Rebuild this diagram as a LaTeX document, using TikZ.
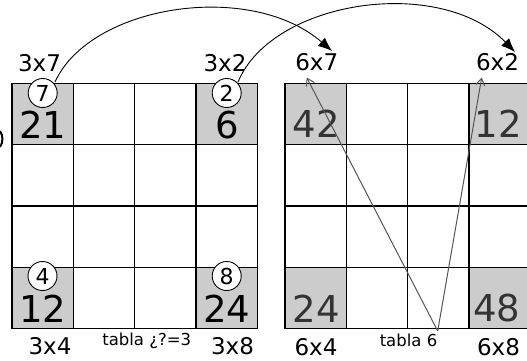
\documentclass[tikz,border=0pt]{standalone}
\usepackage{fontspec}
\setmainfont{DejaVu Sans}
\usetikzlibrary{arrows.meta}
\definecolor{cellgray}{HTML}{CCCCCC}
\definecolor{numgray}{HTML}{333333}
\definecolor{linegray}{HTML}{555555}
\begin{document}
\begin{tikzpicture}[x=1pt,y=-1pt,
  gridline/.style={line width=1.3pt,black},
  bignum/.style={font=\fontsize{37}{40}\selectfont,inner sep=0pt},
  rnum/.style={bignum,text=numgray},
  lab/.style={font=\fontsize{23}{26}\selectfont,inner sep=0pt},
  small/.style={font=\fontsize{16.5}{19}\selectfont,inner sep=0pt},
  circ/.style={circle,draw,line width=0.9pt,fill=white,minimum size=29pt,inner sep=0pt,font=\fontsize{22}{24}\selectfont},
  bigarrow/.style={line width=0.9pt,-{Latex[length=14pt,width=11pt]}},
  grayarrow/.style={line width=1pt,linegray,-{Straight Barb[length=7pt,width=9pt]}}]
\useasboundingbox (0,0) rectangle (527,360);
% left grid
\fill[cellgray] (12,83.3) rectangle +(61.3,61.3);
\fill[cellgray] (195.9,83.3) rectangle +(61.3,61.3);
\fill[cellgray] (12,267.2) rectangle +(61.3,61.3);
\fill[cellgray] (195.9,267.2) rectangle +(61.3,61.3);
\foreach \i in {0,...,4} {
  \draw[gridline] (12+\i*61.3,83.3) -- (12+\i*61.3,328.5);
  \draw[gridline] (12,83.3+\i*61.3) -- (257.2,83.3+\i*61.3);
}
% right grid
\fill[cellgray] (285,83.3) rectangle +(61.3,61.3);
\fill[cellgray] (468.9,83.3) rectangle +(61.3,61.3);
\fill[cellgray] (285,267.2) rectangle +(61.3,61.3);
\fill[cellgray] (468.9,267.2) rectangle +(61.3,61.3);
\foreach \i in {0,...,4} {
  \draw[gridline] (285+\i*61.3,83.3) -- (285+\i*61.3,328.5);
  \draw[gridline] (285,83.3+\i*61.3) -- (530.2,83.3+\i*61.3);
}
% left texts
\node[bignum] (n21) at (43,125) {21};
\node[bignum] (n6) at (227,125) {6};
\node[bignum] (n12) at (43,308.5) {12};
\node[bignum] (n24) at (227,308.5) {24};
\node[circ] (c7) at (42.7,93) {7};
\node[circ] (c2) at (226.7,93) {2};
\node[circ] (c4) at (42.5,276) {4};
\node[circ] (c8) at (226.7,276) {8};
\node[lab] (l37) at (39.5,63.5) {3x7};
\node[lab] (l32) at (225,63.5) {3x2};
\node[lab] (l34) at (50,346.5) {3x4};
\node[lab] (l38) at (232.5,346.5) {3x8};
\node[small] (tab3) at (146.7,341) {tabla ¿?=3};
% clipped fragment at the left edge
\draw[line width=2pt] (0,131) .. controls (3.2,135) and (3.2,143) .. (0,147);
% right texts
\node[rnum] (n42) at (316.5,123.5) {42};
\node[rnum] (n12r) at (498.5,123.5) {12};
\node[rnum] (n24r) at (316.5,308.5) {24};
\node[rnum] (n48) at (497,308.5) {48};
\node[lab] (l67) at (316.7,62.5) {6x7};
\node[lab] (l62) at (497.5,62.5) {6x2};
\node[lab] (l64) at (316,347) {6x4};
\node[lab] (l68) at (498.5,347) {6x8};
\node[small] (tab6) at (408.5,340) {tabla 6};
% connectors
\coordinate (s7) at (55,82);
\coordinate (e7) at (332,51);
\coordinate (s2) at (238,82);
\coordinate (e2) at (515,52);
\draw[bigarrow] (s7) .. controls (90,5) and (250,-20) .. (e7);
\draw[bigarrow] (s2) .. controls (272,0) and (440,-25) .. (e2);
\coordinate (t6) at (437.7,331);
\coordinate (g1) at (306.7,77.5);
\coordinate (g2) at (481.7,77.5);
\draw[grayarrow] (t6) -- (g1);
\draw[grayarrow] (t6) -- (g2);
\end{tikzpicture}
\end{document}
